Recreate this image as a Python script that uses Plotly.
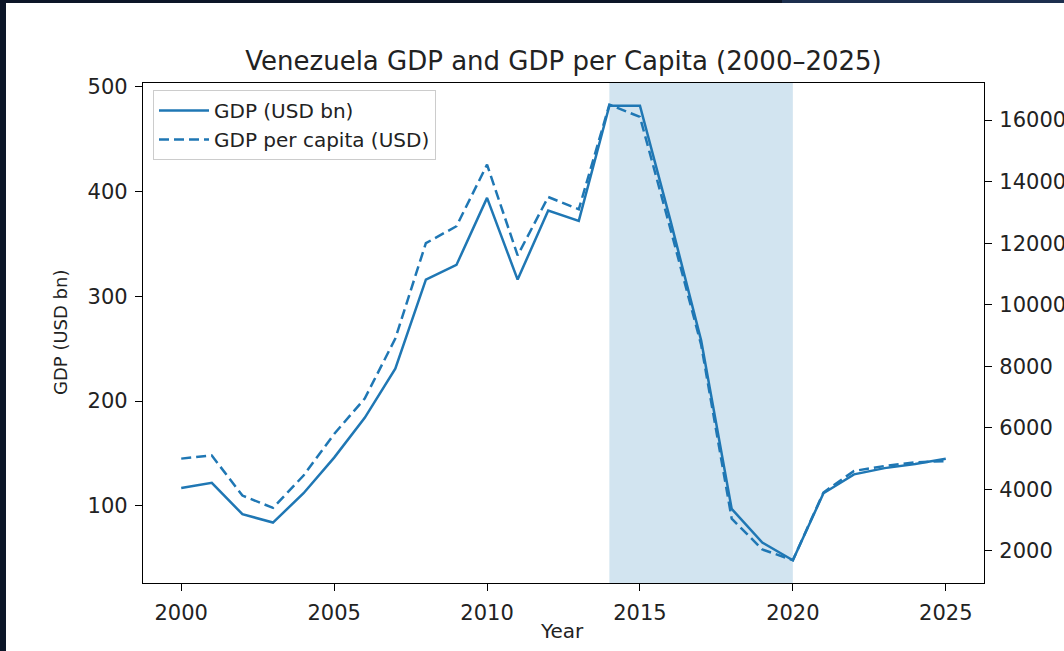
import plotly.graph_objects as go

years = list(range(2000, 2026))
gdp_bn = [117, 122, 92, 84, 112, 146, 184, 231, 316, 330, 394, 316, 382, 372,
          482, 482, 372, 258, 97, 65, 48, 112, 130, 136, 140, 145]
gdp_pc = [5000, 5100, 3800, 3400, 4450, 5800, 6950, 8900, 12000, 12550, 14550,
          11600, 13500, 13100, 16500, 16100, 12450, 8700, 3050, 2050, 1700,
          3900, 4600, 4760, 4880, 4920]
shade_start, shade_end = 2014, 2020
left_ticks = [100, 200, 300, 400, 500]
right_ticks = [2000, 4000, 6000, 8000, 10000, 12000, 14000, 16000]
x_ticks = [2000, 2005, 2010, 2015, 2020, 2025]

C0 = "#1f77b4"
FONT = "DejaVu Sans"

fig = go.Figure()
fig.add_trace(go.Scatter(x=years, y=gdp_bn, mode="lines", name="GDP (USD bn)",
                         line=dict(color=C0, width=2.5), yaxis="y"))
fig.add_trace(go.Scatter(x=years, y=gdp_pc, mode="lines", name="GDP per capita (USD)",
                         line=dict(color=C0, width=2.5, dash="10px,5px"), yaxis="y2"))

fig.add_vrect(x0=shade_start, x1=shade_end, fillcolor="rgba(31,119,180,0.2)",
              line_width=0, layer="below")

L, R, T, B = 143, 80, 83, 68
W, H = 1064, 651
pw, ph = W - L - R, H - T - B

def px_x(p):
    return (p - L) / pw

def px_y(p):
    return (H - B - p) / ph

# screenshot frame strips
fig.add_shape(type="rect", xref="paper", yref="paper", x0=px_x(0), x1=px_x(W),
              y0=px_y(3), y1=px_y(0), fillcolor="#0c1628", line_width=0, layer="above")
fig.add_shape(type="rect", xref="paper", yref="paper", x0=px_x(782), x1=px_x(W),
              y0=px_y(3), y1=px_y(0), fillcolor="#1c2f4e", line_width=0, layer="above")
fig.add_shape(type="rect", xref="paper", yref="paper", x0=px_x(0), x1=px_x(6),
              y0=px_y(H), y1=px_y(0), fillcolor="#0c1628", line_width=0, layer="above")

axis_common = dict(showgrid=False, zeroline=False, showline=True, linecolor="black",
                   linewidth=1.3, ticks="outside", ticklen=7, tickwidth=1.3,
                   tickcolor="black", tickfont=dict(family=FONT, size=21, color="#222"))

fig.update_layout(
    width=W, height=H,
    margin=dict(l=L, r=R, t=T, b=B, autoexpand=False),
    paper_bgcolor="white", plot_bgcolor="white",
    font=dict(family=FONT, color="#222"),
    title=dict(text="Venezuela GDP and GDP per Capita (2000–2025)",
               font=dict(family=FONT, size=26, color="#222"),
               x=(L + pw / 2) / W, xanchor="center", y=1 - 61 / H, yanchor="middle"),
    xaxis=dict(range=[1998.75, 2026.25], tickvals=x_ticks, mirror=True,
               ticklabelstandoff=4, **axis_common),
    yaxis=dict(range=[26.3, 503.7], tickvals=left_ticks, ticklabelstandoff=3,
               **axis_common),
    yaxis2=dict(range=[959, 17203], tickvals=right_ticks, tickformat="d",
                overlaying="y", side="right", ticklabelstandoff=3, **axis_common),
    legend=dict(x=px_x(153), y=px_y(90), xanchor="left", yanchor="top",
                bgcolor="rgba(255,255,255,0.8)", bordercolor="#cccccc", borderwidth=1,
                itemwidth=50,
                font=dict(family=FONT, size=20, color="#222"), tracegroupgap=0),
    showlegend=True,
)

fig.add_annotation(text="GDP (USD bn)", xref="paper", yref="paper",
                   x=px_x(60), y=px_y(333), textangle=-90, showarrow=False,
                   xanchor="center", yanchor="middle",
                   font=dict(family=FONT, size=18, color="#222"))
fig.add_annotation(text="Year", xref="paper", yref="paper",
                   x=px_x(562), y=px_y(631), showarrow=False,
                   xanchor="center", yanchor="middle",
                   font=dict(family=FONT, size=20, color="#222"))

fig.write_html("out.html")
